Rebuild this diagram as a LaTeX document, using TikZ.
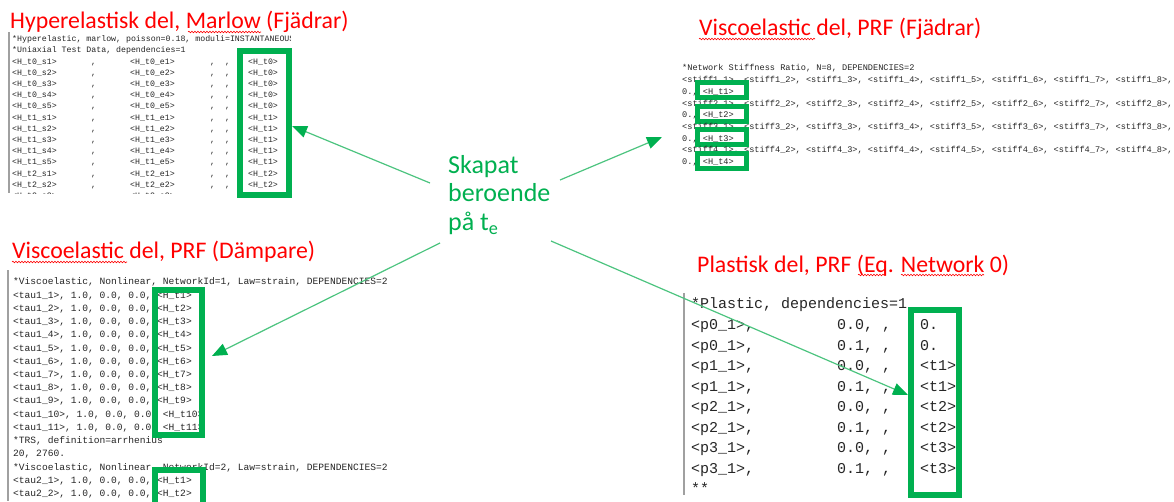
\documentclass[tikz,border=0pt]{standalone}
\usepackage{fontspec}
\usepackage{tikz}
\usetikzlibrary{arrows.meta}
\usetikzlibrary{decorations.pathmorphing}
\setmainfont{Carlito}
\newfontfamily\kodfont{Liberation Mono}
\definecolor{col1}{HTML}{FF0000}
\definecolor{col2}{HTML}{00B050}
\definecolor{col3}{HTML}{4CC47F}
\definecolor{col4}{HTML}{A0A0A0}
\definecolor{col5}{HTML}{262626}

\begin{document}
\begin{tikzpicture}[x=1pt, y=-1pt]
    \tikzstyle{hdr} += [text=col1, inner sep=0pt, anchor=base west, font=\fontsize{23.8}{27}\selectfont];
    \tikzstyle{kod} += [text=col5, inner sep=0pt, anchor=base west];
    \tikzstyle{kod1} += [kod, font=\kodfont\fontsize{8.25}{10}\selectfont];
    \tikzstyle{kod2} += [kod, font=\kodfont\fontsize{8.6}{10}\selectfont];
    \tikzstyle{kod3} += [kod, font=\kodfont\fontsize{9.6}{11}\selectfont];
    \tikzstyle{kod4} += [kod, font=\kodfont\fontsize{15}{18}\selectfont];
    \tikzstyle{gbox} += [draw=col2, line width=6pt];
    \tikzstyle{bar} += [draw=col4, line width=1.5pt];
    \tikzstyle{squig} += [draw=col1, line width=0.6pt, decorate, decoration={snake, amplitude=0.8pt, segment length=3pt}];
    \tikzstyle{arr} += [draw=col3, line width=1.2pt, -{Triangle[length=15pt, width=12pt, color=col2]}];
    \useasboundingbox[fill=white] (0,0) rectangle (1174,501);

    \node (h_1) at ( 10,  28) [hdr]{Hyperelastisk del, Marlow (Fjädrar)};
    \node (h_2) at (699,  35) [hdr]{Viscoelastic del, PRF (Fjädrar)};
    \node (h_3) at ( 12, 258) [hdr]{Viscoelastic del, PRF (Dämpare)};
    \node (h_4) at (697, 272) [hdr]{Plastisk del, PRF (Eq. Network 0)};
    \draw[squig] (188, 32) -- (261, 32);
    \draw[squig] (699, 39) -- (815, 39);
    \draw[squig] ( 12,262) -- (127,262);
    \draw[squig] (858,275) -- (884,275);
    \draw[squig] (901,275) -- (984,275);

    % Marlow
    \begin{scope}
      \clip (0,30) rectangle (290,193);
      \node (m_0) at (12, 41.7) [kod1]{*Hyperelastic, marlow, poisson=0.18, moduli=INSTANTANEOUS};
      \node (m_1) at (12, 52.9) [kod1]{*Uniaxial Test Data, dependencies=1};
      \foreach \t/\s [count=\k from 2] in {0/1,0/2,0/3,0/4,0/5,1/1,1/2,1/3,1/4,1/5,2/1,2/2,2/3} {
        \node (m_\k a) at ( 12, 41.7+11.2*\k) [kod1]{<H\_t\t\_s\s>};
        \node (m_\k b) at ( 91, 41.7+11.2*\k) [kod1]{,};
        \node (m_\k c) at (130, 41.7+11.2*\k) [kod1]{<H\_t\t\_e\s>};
        \node (m_\k d) at (210, 41.7+11.2*\k) [kod1]{,};
        \node (m_\k e) at (225, 41.7+11.2*\k) [kod1]{,};
        \node (m_\k f) at (248, 41.7+11.2*\k) [kod1]{<H\_t\t>};
      }
    \end{scope}
    \draw[bar] (9,32) -- (9,193);
    \draw[gbox] (240,51) rectangle (289,195);

    % network stiffness
    \node (n_0) at (682, 70.9) [kod2]{*Network Stiffness Ratio, N=8, DEPENDENCIES=2};
    \foreach \j in {1,...,4} {
      \node (n_\j s) at (682, {82.6+23.4*(\j-1)}) [kod2]{<stiff\j\_1>, <stiff\j\_2>, <stiff\j\_3>, <stiff\j\_4>, <stiff\j\_5>, <stiff\j\_6>, <stiff\j\_7>, <stiff\j\_8>,};
      \node (n_\j h) at (682, {94.3+23.4*(\j-1)}) [kod2]{0., <H\_t\j>};
      \draw[gbox, line width=5pt] (697.5, {82.5+23.6*(\j-1)}) rectangle (746.5, {97.5+23.6*(\j-1)});
    }

    % damper networks
    \node (v_0) at (13, 284) [kod3]{*Viscoelastic, Nonlinear, NetworkId=1, Law=strain, DEPENDENCIES=2};
    \foreach \k in {1,...,11}
      \node (v_\k) at (13, 285+13.22*\k) [kod3]{<tau1\_\k>, 1.0, 0.0, 0.0, <H\_t\k>};
    \node (v_12) at (13, 285+13.22*12) [kod3]{*TRS, definition=arrhenius};
    \node (v_13) at (13, 285+13.22*13) [kod3]{20, 2760.};
    \node (v_14) at (13, 285+13.22*14) [kod3]{*Viscoelastic, Nonlinear, NetworkId=2, Law=strain, DEPENDENCIES=2};
    \foreach \k in {1,2}
      \node (w_\k) at (13, {285+13.22*(14+\k)}) [kod3]{<tau2\_\k>, 1.0, 0.0, 0.0, <H\_t\k>};
    \draw[bar] (8,270) -- (8,501);
    \draw[gbox] (155,290) rectangle (202,435);
    \draw[gbox] (155,470) rectangle (203,520);

    % plastic
    \node (p_0) at (691, 308) [kod4]{*Plastic, dependencies=1};
    \foreach \p/\e/\v [count=\k] in {0/0/0.,0/1/0.,1/0/<t1>,1/1/<t1>,2/0/<t2>,2/1/<t2>,3/0/<t3>,3/1/<t3>} {
      \node (p_\k a) at (691, 309.5+20.45*\k) [kod4]{<p\p\_1>,};
      \node (p_\k b) at (837, 309.5+20.45*\k) [kod4]{0.\e, ,};
      \node (p_\k c) at (920, 309.5+20.45*\k) [kod4]{\v};
    }
    \node (p_9) at (691, 309.5+20.45*9) [kod4]{**};
    \draw[bar] (684,293) -- (684,495);
    \draw[gbox] (911,310) rectangle (959,495);

    \node (skapat) at (448, 195) [anchor=west, text=col2, align=left, inner sep=0pt, font=\fontsize{26}{28.5}\selectfont]{Skapat\\beroende\\på t\textsubscript{e}};
    \coordinate (s_1) at (430, 183);
    \coordinate (s_2) at (560, 180);
    \coordinate (s_3) at (440, 243);
    \coordinate (s_4) at (551, 241);
    \coordinate (e_1) at (292, 126);
    \coordinate (e_2) at (662, 137);
    \coordinate (e_3) at (212, 356);
    \coordinate (e_4) at (908, 395);
    \draw[arr] (s_1) -- (e_1);
    \draw[arr] (s_2) -- (e_2);
    \draw[arr] (s_3) -- (e_3);
    \draw[arr] (s_4) -- (e_4);
\end{tikzpicture}
\end{document}
